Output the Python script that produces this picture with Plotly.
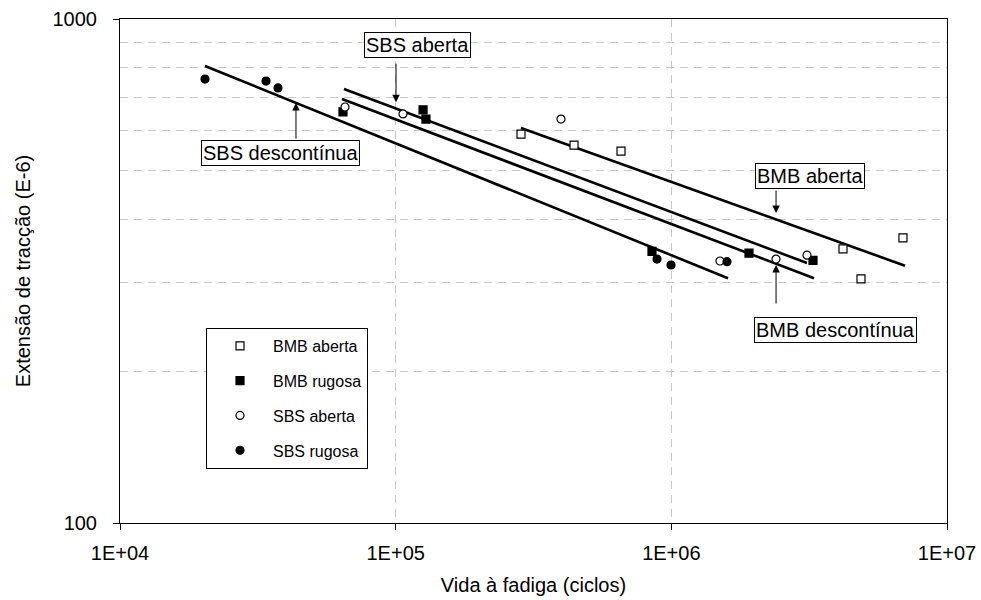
import numpy as np
import plotly.graph_objects as go

# ---- data ----
bmb_aberta_N = [284900, 443600, 656900, 4195000, 6923000, 4875000]
bmb_aberta_e = [591, 562, 547, 350, 368, 305]
bmb_rugosa_N = [64400, 125700, 128800, 850900, 1913000, 3265000]
bmb_rugosa_e = [654, 660, 633, 346, 343, 332]
sbs_aberta_N = [65500, 106300, 397800, 1501000, 2397000, 3105000]
sbs_aberta_e = [669, 648, 633, 331, 334, 340]
sbs_rugosa_N = [20340, 33860, 37420, 887200, 997300, 1592000]
sbs_rugosa_e = [760, 753, 730, 334, 325, 330]

# fatigue laws (end points)
line_names = ["SBS descontínua", "SBS aberta", "BMB descontínua", "BMB aberta"]
line_N = [[20340, 1605000], [64950, 3105000], [63880, 3293000], [284800, 7040000]]
line_e = [[807, 306], [726, 328], [694, 306], [608, 324]]

# label boxes (centre, data units) and arrow heads (data units) + arrow length (px)
label_text = ["SBS aberta", "SBS descontínua", "BMB aberta", "BMB descontínua"]
label_N = [120500, 38370, 3184000, 3925000]
label_e = [888, 542, 488, 241.5]
arrow_N = [100300, 43490, 2398000, 2398000]
arrow_e = [684, 681, 412, 325]
arrow_ay = [-40, 37, -24, 40]

x_ticks = [1e4, 1e5, 1e6, 1e7]
x_ticktext = ["1E+04", "1E+05", "1E+06", "1E+07"]
y_ticks = [100, 1000]
y_ticktext = ["100", "1000"]
y_minor = [200, 300, 400, 500, 600, 700, 800, 900]

FONT = "Liberation Sans, Arial, sans-serif"
fig = go.Figure()

for N, e in zip(line_N, line_e):
    fig.add_trace(go.Scatter(x=N, y=e, mode="lines", line=dict(color="black", width=2.6),
                             showlegend=False, hoverinfo="skip"))

series = [
    ("BMB aberta", bmb_aberta_N, bmb_aberta_e, "square", "white", 8),
    ("BMB rugosa", bmb_rugosa_N, bmb_rugosa_e, "square", "black", 8),
    ("SBS aberta", sbs_aberta_N, sbs_aberta_e, "circle", "white", 8),
    ("SBS rugosa", sbs_rugosa_N, sbs_rugosa_e, "circle", "black", 8),
]
for i, (name, N, e, sym, fill, sz) in enumerate(series):
    fig.add_trace(go.Scatter(x=N, y=e, mode="markers", name=name, legendgroup=f"g{i}",
                             marker=dict(symbol=sym, size=sz, color=fill,
                                         line=dict(color="black", width=1.2))))

for t, lx, ly in zip(label_text, label_N, label_e):
    fig.add_annotation(x=np.log10(lx), y=np.log10(ly), text=t, showarrow=False,
                       font=dict(family=FONT, size=20, color="black"),
                       bordercolor="black", borderwidth=1, borderpad=1, bgcolor="white")
for hx, hy, ay in zip(arrow_N, arrow_e, arrow_ay):
    fig.add_annotation(x=np.log10(hx), y=np.log10(hy), text="", showarrow=True,
                       ax=0, ay=ay, arrowhead=2, arrowsize=1.5, arrowwidth=1,
                       arrowcolor="black", standoff=0)

grid_dash = "8px,6px"
fig.update_xaxes(type="log", range=[4, 7], tickvals=x_ticks, ticktext=x_ticktext,
                 ticks="outside", ticklen=6, tickcolor="black", showline=True,
                 linecolor="black", linewidth=1, mirror=True, automargin=False,
                 ticklabelstandoff=6,
                 showgrid=True, gridcolor="#c8c8c8", griddash=grid_dash, gridwidth=1,
                 tickfont=dict(family=FONT, size=20, color="black"),
                 title=dict(text="Vida à fadiga (ciclos)", standoff=14,
                            font=dict(family=FONT, size=20, color="black")),
                 zeroline=False)
fig.update_yaxes(type="log", range=[2, 3], tickvals=y_ticks, ticktext=y_ticktext,
                 ticks="outside", ticklen=6, tickcolor="black", showline=True,
                 linecolor="black", linewidth=1, mirror=True, showgrid=False,
                 automargin=False, ticklabelstandoff=12,
                 minor=dict(tickvals=y_minor, showgrid=True, gridcolor="#c8c8c8",
                            griddash=grid_dash, ticks=""),
                 tickfont=dict(family=FONT, size=20, color="black"),
                 title=dict(text="Extensão de tracção (E-6)", standoff=16,
                            font=dict(family=FONT, size=20, color="black")),
                 zeroline=False)

fig.update_layout(
    width=981, height=600,
    margin=dict(l=120, r=34, t=19, b=77),
    paper_bgcolor="white", plot_bgcolor="white",
    showlegend=True,
    legend=dict(x=0.104, y=0.387, xanchor="left", yanchor="top",
                bordercolor="black", borderwidth=1, bgcolor="white",
                font=dict(family=FONT, size=16, color="black"),
                tracegroupgap=11, itemwidth=56),
)

fig.write_html("out.html", config={"displayModeBar": False},
               post_script="document.body.style.margin='0px';document.body.style.overflow='hidden';")
